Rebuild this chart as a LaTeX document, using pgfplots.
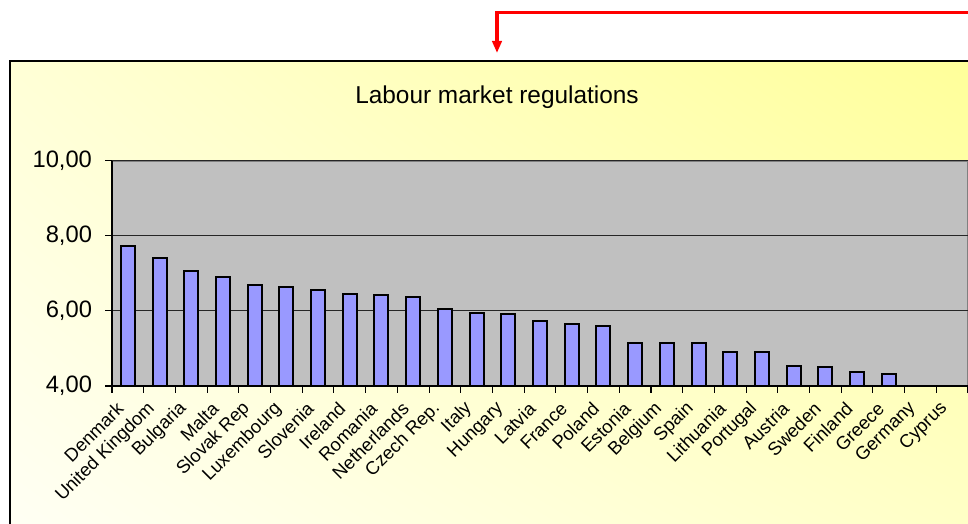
\documentclass[border=0pt]{standalone}
\usepackage{pgfplots}
\pgfplotsset{compat=1.18}
\usepackage{fontspec}
\setmainfont{Liberation Sans}
\usetikzlibrary{arrows.meta,shadings}
\definecolor{barblue}{HTML}{9999FF}
\definecolor{plotgray}{HTML}{C0C0C0}
\definecolor{bgUL}{HTML}{FFFFD6}
\definecolor{bgUR}{HTML}{FFFF99}
\definecolor{bgLL}{HTML}{FFFFF4}
\definecolor{bgLR}{HTML}{FFFFC6}
\begin{document}
\begin{tikzpicture}
\useasboundingbox (0,0) rectangle (726pt,393pt);
\clip (0,0) rectangle (726pt,393pt);
\begin{scope}[x=0.75pt,y=0.75pt]
\shade[upper left=bgUL, upper right=bgUR, lower left=bgLL, lower right=bgLR] (10,-5) rectangle (980,463);
\draw[black, line width=1pt] (10,-5) rectangle (980,463);
\node[font=\fontsize{18.3}{20}\selectfont] at (497,427) {Labour market regulations};
\draw[red, line width=2.4pt, -{Triangle[length=9pt,width=7pt]}] (980,511.3) -- (497,511.3) -- (497,471);
\end{scope}
\begin{axis}[
  at={(84pt,103.5pt)}, anchor=south west,
  scale only axis, width=642pt, height=169.1pt,
  xmin=-0.5, xmax=26.5, ymin=4, ymax=10,
  ytick={4,6,8,10},
  xtick={-0.5,0.5,...,26.5}, xticklabels={},
  extra x ticks={0,1,...,26},
  extra x tick labels={Denmark,United Kingdom,Bulgaria,Malta,Slovak Rep,Luxembourg,Slovenia,Ireland,Romania,Netherlands,Czech Rep.,Italy,Hungary,Latvia,France,Poland,Estonia,Belgium,Spain,Lithuania,Portugal,Austria,Sweden,Finland,Greece,Germany,Cyprus},
  extra x tick style={tick style={draw=none}, grid=none},
  xticklabel style={xshift=-5pt, yshift=-9pt, rotate=45, anchor=east, font=\fontsize{13.8}{15}\selectfont, inner sep=1pt},
  yticklabel style={xshift=-6.5pt, font=\fontsize{17.8}{19}\selectfont},
  /pgf/number format/.cd, fixed, fixed zerofill, precision=2, use comma, assume math mode=true,
  /pgfplots/.cd,
  tick align=outside, major tick length=5pt,
  tick style={black, line width=0.8pt},
  xtick pos=bottom, ytick pos=left,
  axis x line*=bottom, axis y line*=left,
  axis line style={black, line width=1pt},
  axis background/.style={fill=plotgray, draw=gray, line width=1.5pt},
  ymajorgrids, grid style={black!85, line width=0.8pt},
]
\addplot[ybar, bar width=10.5pt, fill=barblue, draw=black, line width=1.5pt] coordinates {
(0,7.72) (1,7.40) (2,7.05) (3,6.91) (4,6.68) (5,6.64) (6,6.55) (7,6.45) (8,6.41) (9,6.36)
(10,6.04) (11,5.95) (12,5.91) (13,5.73) (14,5.64) (15,5.60) (16,5.14) (17,5.14) (18,5.14)
(19,4.91) (20,4.91) (21,4.54) (22,4.50) (23,4.37) (24,4.32)
};
\end{axis}
\end{tikzpicture}
\end{document}
